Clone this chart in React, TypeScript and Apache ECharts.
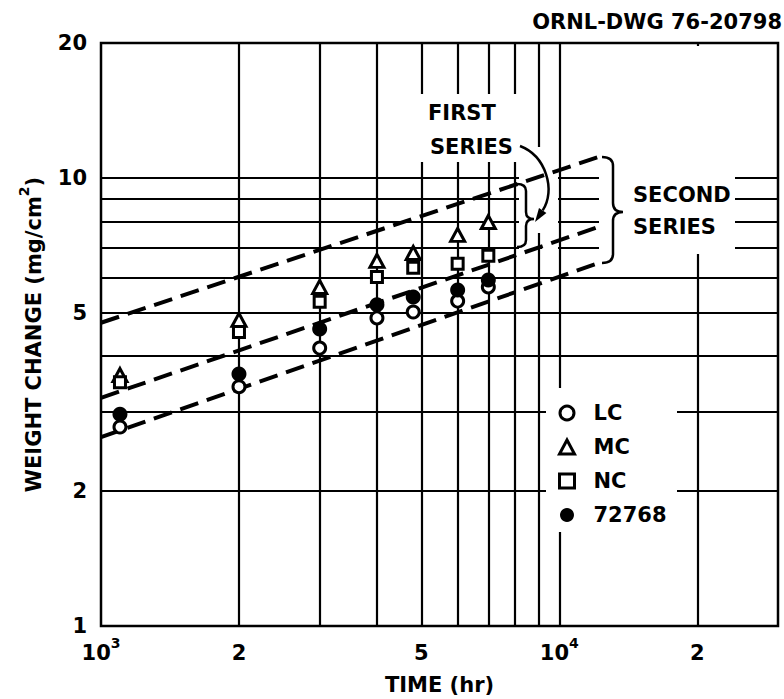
import React, { useEffect, useRef } from 'react';
import * as echarts from 'echarts';

// ---------- data ----------
const times = [1100, 2000, 3000, 4000, 4800, 6000, 7000];
const lcValues = [2.78, 3.42, 4.17, 4.87, 5.02, 5.31, 5.71];
const mcValues = [3.63, 4.82, 5.71, 6.53, 6.8, 7.46, 7.97];
const ncValues = [3.5, 4.53, 5.29, 6.01, 6.3, 6.43, 6.7];
const h72768Values = [2.97, 3.65, 4.6, 5.21, 5.42, 5.62, 5.92];

const bandTimes = [1000, 12200];
const bandUpper = [4.75, 11.14];
const bandMiddle = [3.23, 7.78];
const bandLower = [2.64, 6.46];

const xTickValues = [1000, 2000, 5000, 10000, 20000];
const xTickBase = ['10', '2', '5', '10', '2'];
const xTickExp = ['3', '', '', '4', ''];
const yTickValues = [1, 2, 5, 10, 20];
const yTickLabels = ['1', '2', '5', '10', '20'];
const xGridValues = [2000, 3000, 4000, 5000, 6000, 7000, 8000, 9000, 10000, 20000];
const yGridValues = [2, 3, 4, 5, 6, 7, 8, 9, 10];

const seriesNames = ['LC', 'MC', 'NC', '72768'];

const FONT = 'DejaVu Sans';

const findTick = (arr: number[], v: number) =>
  arr.findIndex((t) => Math.abs(t - v) <= t * 1e-6);

const bracePath = (x0: number, x1: number, x2: number, y0: number, ym: number, y1: number, r: number) =>
  `M${x0},${y0} Q${x1},${y0} ${x1},${y0 + r} L${x1},${ym - r} Q${x1},${ym} ${x2},${ym} ` +
  `Q${x1},${ym} ${x1},${ym + r} L${x1},${y1 - r} Q${x1},${y1} ${x0},${y1}`;

export default function App() {
  const ref = useRef<HTMLDivElement>(null);

  useEffect(() => {
    if (!ref.current) return;
    echarts.graphic.registerShape('smallBrace', echarts.graphic.extendPath(bracePath(517, 526, 534, 184, 219, 247, 7), {}));
    echarts.graphic.registerShape('bigBrace', echarts.graphic.extendPath(bracePath(602, 613, 623, 157, 212, 263, 9), {}));
    echarts.graphic.registerShape('arrowCurve', echarts.graphic.extendPath('M520,146 C546,156 556,190 542.7,210.4', {}));

    const chart = echarts.init(ref.current, null, { renderer: 'svg' });

    const masks = [
      [410, 94, 123, 68],
      [534, 147, 13, 86],
      [519, 172, 39, 12],
      [519, 193, 39, 12],
      [519, 215, 39, 12],
      [519, 241, 18, 12],
      [542, 241, 16, 12],
      [599, 150, 136, 104],
      [692, 46, 12, 208],
      [546, 388, 131, 144],
    ];

    const textEl = (text: string, x: number, y: number, align = 'left') => ({
      type: 'text',
      x,
      y,
      z: 6,
      silent: true,
      style: {
        text,
        fontFamily: FONT,
        fontWeight: 'bold',
        fontSize: 21,
        fill: '#000',
        align,
        verticalAlign: 'middle',
        textAlign: align,
        textVerticalAlign: 'middle',
      },
    });

    const markerStyle = { color: '#fff', borderColor: '#000', borderWidth: 3, opacity: 1 };
    const filledStyle = { color: '#000', borderColor: '#000', borderWidth: 0, opacity: 1 };

    const option: any = {
      animation: false,
      backgroundColor: '#fff',
      textStyle: { fontFamily: FONT },
      grid: {
        left: 101,
        top: 43,
        right: 6,
        bottom: 73,
        show: true,
        borderColor: '#000',
        borderWidth: 2.5,
        backgroundColor: 'transparent',
        containLabel: false,
        outerBoundsMode: 'none',
      },
      xAxis: {
        type: 'log',
        logBase: 10,
        min: 1000,
        max: 30000,
        axisLine: { show: false },
        axisTick: { show: false },
        splitLine: { show: false },
        minorSplitLine: { show: false },
        axisLabel: {
          customValues: xTickValues,
          margin: 12,
          color: '#000',
          formatter: (v: number) => {
            const i = findTick(xTickValues, v);
            if (i < 0) return '';
            return xTickExp[i] ? `{b|${xTickBase[i]}}{s|${xTickExp[i]}}` : `{b|${xTickBase[i]}}`;
          },
          rich: {
            b: { fontFamily: FONT, fontWeight: 'bold', fontSize: 21, color: '#000', lineHeight: 24, padding: [6, 0, 0, 0] },
            s: { fontFamily: FONT, fontWeight: 'bold', fontSize: 14, color: '#000', lineHeight: 16, padding: [0, 0, 14, 0] },
          },
        },
        name: 'TIME (hr)',
        nameLocation: 'middle',
        nameGap: 48,
        nameTextStyle: { fontFamily: FONT, fontWeight: 'bold', fontSize: 21, color: '#000' },
      },
      yAxis: {
        type: 'log',
        logBase: 10,
        min: 1,
        max: 20,
        axisLine: { show: false },
        axisTick: { show: false },
        splitLine: { show: false },
        axisLabel: {
          customValues: yTickValues,
          margin: 14,
          color: '#000',
          fontFamily: FONT,
          fontWeight: 'bold',
          fontSize: 21,
          formatter: (v: number) => {
            const i = findTick(yTickValues, v);
            return i < 0 ? '' : yTickLabels[i];
          },
        },
        name: '{a|WEIGHT CHANGE (mg/cm}{s|2}{a|)}',
        nameLocation: 'middle',
        nameGap: 58,
        nameTextStyle: {
          rich: {
            a: { fontFamily: FONT, fontWeight: 'bold', fontSize: 21, color: '#000', lineHeight: 24, padding: [6, 0, 0, 0] },
            s: { fontFamily: FONT, fontWeight: 'bold', fontSize: 14, color: '#000', lineHeight: 16, padding: [0, 0, 14, 0] },
          },
        },
      },
      legend: {
        orient: 'vertical',
        left: 558,
        top: 402,
        padding: 0,
        itemWidth: 15,
        itemHeight: 14,
        itemGap: 12,
        selectedMode: false,
        textStyle: {
          fontFamily: FONT,
          fontWeight: 'bold',
          fontSize: 21,
          color: '#000',
          lineHeight: 22,
          padding: [0, 0, 0, 14],
        },
        data: [
          { name: seriesNames[0], icon: 'circle', itemStyle: markerStyle },
          { name: seriesNames[1], icon: 'triangle', itemStyle: markerStyle },
          { name: seriesNames[2], icon: 'rect', itemStyle: markerStyle },
          { name: seriesNames[3], icon: 'circle', itemStyle: filledStyle },
        ],
      },
      series: [
        {
          type: 'line',
          name: 'gridlines',
          data: [[1000, 1]],
          symbol: 'none',
          lineStyle: { width: 0 },
          silent: true,
          z: 1,
          markLine: {
            z: 1,
            silent: true,
            animation: false,
            symbol: ['none', 'none'],
            label: { show: false },
            emphasis: { disabled: true },
            lineStyle: { color: '#000', width: 2.2, type: 'solid' },
            data: [
              ...xGridValues.map((v) => ({ xAxis: v })),
              ...yGridValues.map((v) => ({ yAxis: v })),
            ],
          },
        },
        ...[bandUpper, bandMiddle, bandLower].map((band, k) => ({
          type: 'line',
          name: 'band' + k,
          data: bandTimes.map((t, i) => [t, band[i]]),
          symbol: 'none',
          silent: true,
          z: 3,
          lineStyle: { color: '#000', width: 4, type: [19, 9] },
        })),
        {
          type: 'scatter',
          name: seriesNames[0],
          data: times.map((t, i) => [t, lcValues[i]]),
          symbol: 'circle',
          symbolSize: 12,
          itemStyle: markerStyle,
          silent: true,
          z: 4,
        },
        {
          type: 'scatter',
          name: seriesNames[1],
          data: times.map((t, i) => [t, mcValues[i]]),
          symbol: 'triangle',
          symbolSize: [14, 13],
          itemStyle: markerStyle,
          silent: true,
          z: 4,
        },
        {
          type: 'scatter',
          name: seriesNames[2],
          data: times.map((t, i) => [t, ncValues[i]]),
          symbol: 'rect',
          symbolSize: 11,
          itemStyle: markerStyle,
          silent: true,
          z: 4,
        },
        {
          type: 'scatter',
          name: seriesNames[3],
          data: times.map((t, i) => [t, h72768Values[i]]),
          symbol: 'circle',
          symbolSize: 15,
          itemStyle: filledStyle,
          silent: true,
          z: 4,
        },
      ],
      graphic: {
        elements: [
          ...masks.map(([x, y, w, h]) => ({
            type: 'rect',
            shape: { x, y, width: w, height: h },
            style: { fill: '#fff' },
            z: 2,
            silent: true,
          })),
          { type: 'smallBrace', z: 6, silent: true, style: { fill: 'none', stroke: '#000', lineWidth: 2.5 } },
          { type: 'bigBrace', z: 6, silent: true, style: { fill: 'none', stroke: '#000', lineWidth: 2.5 } },
          { type: 'arrowCurve', z: 6, silent: true, style: { fill: 'none', stroke: '#000', lineWidth: 2.5 } },
          {
            type: 'polygon',
            z: 6,
            silent: true,
            shape: { points: [[535, 222], [546.4, 212.9], [539, 207.9]] },
            style: { fill: '#000' },
          },
          textEl('FIRST', 428, 113),
          textEl('SERIES', 430, 147),
          textEl('SECOND', 633, 195),
          textEl('SERIES', 633, 227),
          textEl('ORNL-DWG 76-20798', 782, 22, 'right'),
        ],
      },
    };

    chart.setOption(option);
    return () => chart.dispose();
  }, []);

  return (
    <div
      ref={ref}
      style={{ position: 'fixed', left: 0, top: 0, width: 784, height: 699, background: '#fff' }}
    />
  );
}
